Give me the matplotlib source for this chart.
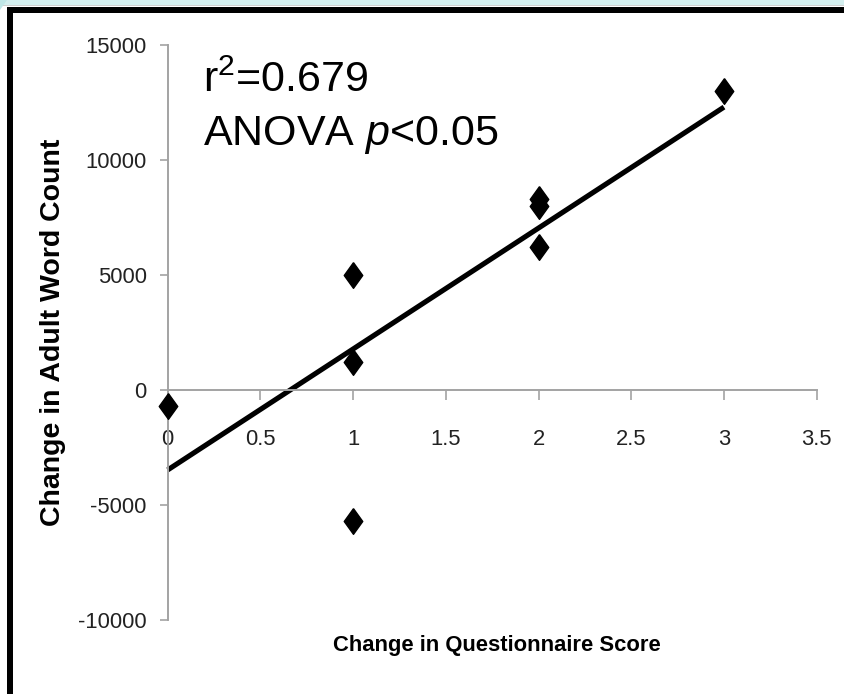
import numpy as np
import matplotlib.pyplot as plt
from matplotlib import font_manager
from matplotlib.patches import Rectangle, Polygon

# data
score_change = [0, 1, 1, 1, 2, 2, 2, 3]
word_change = [-700, -5700, 1200, 5000, 8300, 8000, 6200, 13000]
x_ticks = [0, 0.5, 1, 1.5, 2, 2.5, 3, 3.5]
y_ticks = [-10000, -5000, 0, 5000, 10000, 15000]
r2_text = 'r$^{2}$=0.679'
anova_text = 'ANOVA $p$<0.05'
x_title = 'Change in Questionnaire Score'
y_title = 'Change in Adult Word Count'

# the chart in the picture is squashed sideways, a narrow face imitates that
names = {f.name for f in font_manager.fontManager.ttflist}
if 'Liberation Sans Narrow' in names:
    narrow = 'Liberation Sans Narrow'
    tick_size, xlab_size = 17.5, 18.5
else:
    narrow = 'Liberation Sans'
    tick_size, xlab_size = 15.8, 15.8

plt.rcParams['font.family'] = [narrow, 'Liberation Sans', 'DejaVu Sans']
plt.rcParams['mathtext.fontset'] = 'custom'
plt.rcParams['mathtext.rm'] = 'Liberation Sans'
plt.rcParams['mathtext.it'] = 'Liberation Sans:italic'

W, H = 844, 694
fig = plt.figure(figsize=(W / 100, H / 100), dpi=100)


def fx(px):
    return px / W


def fy(py):
    return 1 - py / H


gray = '#a3a3a3'
ax = fig.add_axes([fx(167.7), fy(620), (816.7 - 167.7) / W, (620 - 45) / H])
ax.set_xlim(0, 3.5)
ax.set_ylim(-10000, 15000)
ax.spines['bottom'].set_position(('data', 0))
ax.spines['top'].set_visible(False)
ax.spines['right'].set_visible(False)
for s in ('left', 'bottom'):
    ax.spines[s].set_color(gray)
    ax.spines[s].set_linewidth(1.4)

ax.set_xticks(x_ticks, [f'{t:g}' for t in x_ticks])
ax.set_yticks(y_ticks, [str(t) for t in y_ticks])
ax.tick_params(axis='x', direction='out', length=7, width=1.2, color=gray, pad=21,
               labelsize=tick_size, labelcolor='#222222')
ax.tick_params(axis='y', direction='out', length=6, width=1.2, color=gray, pad=9,
               labelsize=tick_size, labelcolor='#222222')

# diamond marker, a bit taller than wide
diamond = [(0, 1), (0.72, 0), (0, -1), (-0.72, 0), (0, 1)]
ax.plot(score_change, word_change, linestyle='none', marker=diamond, markersize=18.5,
        color='black', clip_on=False, zorder=3)

slope, intercept = np.polyfit(score_change, word_change, 1)
xs = np.array([min(score_change), max(score_change)])
ax.plot(xs, slope * xs + intercept, color='black', lw=3.7, solid_capstyle='butt',
        clip_on=False, zorder=2)

ax.text(0.19, 12970, r2_text, fontsize=31, family='Liberation Sans', va='baseline')
ax.text(0.19, 10650, anova_text, fontsize=31, family='Liberation Sans', va='baseline')

fig.text(fx(53), fy(332), y_title, rotation=90, ha='center', va='center',
         fontsize=20.5, fontweight='bold', family='Liberation Sans')
fig.text(fx(497), fy(645), x_title, ha='center', va='center',
         fontsize=xlab_size, fontweight='bold', family=[narrow, 'Liberation Sans'])

# slide frame around the chart
fig.add_artist(Rectangle((0, fy(4.5)), 1, 4.5 / H, transform=fig.transFigure,
                         color='#d3eeee', lw=0))
fig.add_artist(Rectangle((0, fy(6)), 1, 1.5 / H, transform=fig.transFigure,
                         color='#cfcfcf', lw=0))
fig.add_artist(Polygon([(0, 1), (fx(7), 1), (0, fy(10))], closed=True,
                       transform=fig.transFigure, color='#bfe6e6', lw=0))
fig.add_artist(Rectangle((fx(7.3), fy(13.3)), 1, 6 / H, transform=fig.transFigure,
                         color='black', lw=0))
fig.add_artist(Rectangle((fx(7.3), 0), 5.4 / W, fy(7.3), transform=fig.transFigure,
                         color='black', lw=0))

fig.savefig('out.png', dpi=100)
